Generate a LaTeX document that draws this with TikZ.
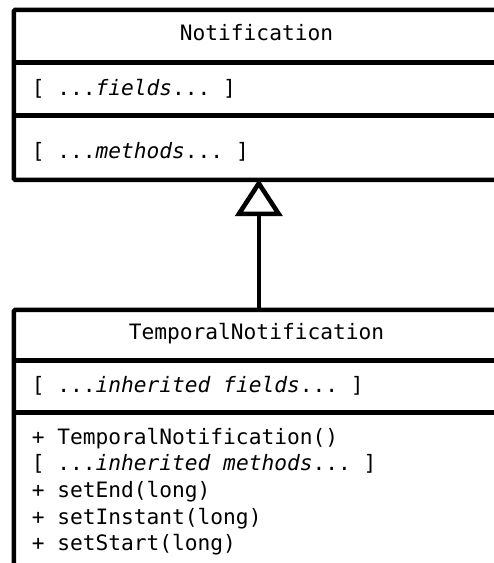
\documentclass[tikz,border=0pt]{standalone}
\usepackage{fontspec}
\setmonofont{DejaVu Sans Mono}
\usetikzlibrary{arrows.meta}
\begin{document}
\begin{tikzpicture}[x=1pt, y=-1pt, line width=4.6pt,
  classbox/.style={draw, rectangle, rounded corners=1.5pt, inner sep=0pt,
    anchor=north west, minimum width=490pt},
  divider/.style={line width=4.4pt},
  umltext/.style={inner sep=0pt, font=\ttfamily\fontsize{21.2}{26.7}\selectfont},
  member/.style={umltext, anchor=base west},
  title/.style={umltext, anchor=base},
  inherits/.style={-{Triangle[open, length=37pt, width=47pt]}, shorten >=-3pt}]
\useasboundingbox (0,0) rectangle (494,563);
\clip (0,0) rectangle (494,563);

% superclass
\node[classbox, minimum height=170pt] (notif) at (11.5,7.5) {};
\draw[divider] (notif.west |- 0,62.5) -- (notif.east |- 0,62.5);
\draw[divider] (notif.west |- 0,115.5) -- (notif.east |- 0,115.5);
\node[title] (notifname) at (256.5,40) {Notification};
\node[member] (notiffields) at (29.5,95) {[ ...\textit{fields}... ]};
\node[member] (notifmethods) at (29.5,158) {[ ...\textit{methods}... ]};

% subclass
\node[classbox, minimum height=258.5pt] (temporal) at (11.5,307.5) {};
\draw[divider] (temporal.west |- 0,360.5) -- (temporal.east |- 0,360.5);
\draw[divider] (temporal.west |- 0,412.5) -- (temporal.east |- 0,412.5);
\node[title] (temporalname) at (256.5,339) {TemporalNotification};
\node[member] (temporalfields) at (29.5,392) {[ ...\textit{inherited fields}... ]};
\node[member] (m1) at (29.5,444) {+ TemporalNotification()};
\node[member] (m2) at (29.5,470.7) {[ ...\textit{inherited methods}... ]};
\node[member] (m3) at (29.5,497.4) {+ setEnd(long)};
\node[member] (m4) at (29.5,524.1) {+ setInstant(long)};
\node[member] (m5) at (29.5,550.8) {+ setStart(long)};

% generalization
\draw[inherits] (temporal.north) -- (notif.south);
\end{tikzpicture}
\end{document}
